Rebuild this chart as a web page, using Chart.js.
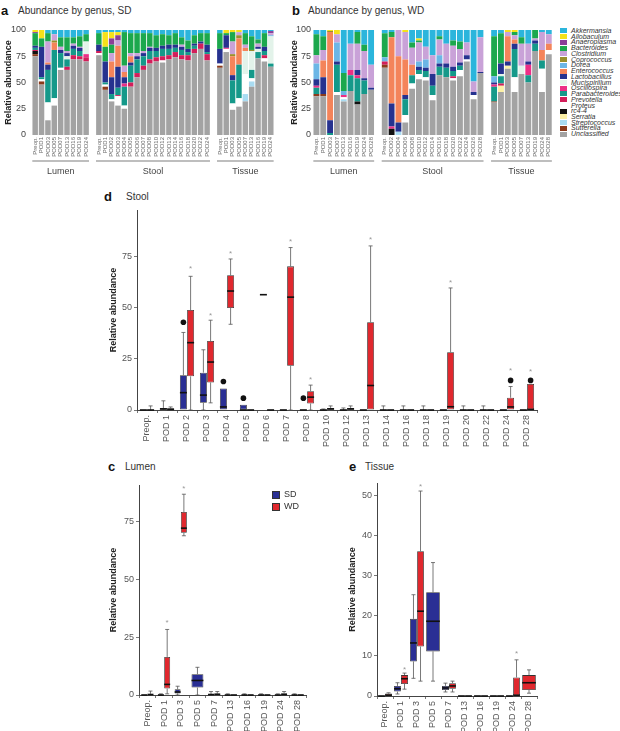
<!DOCTYPE html>
<html>
<head>
<meta charset="utf-8">
<script src="https://cdn.jsdelivr.net/npm/chart.js@4.4.0/dist/chart.umd.min.js"></script>
<style>
  body { margin: 0; width: 620px; height: 731px; position: relative; overflow: hidden; background: #fff;
         font-family: "Liberation Sans", Arial, sans-serif; }
  canvas { position: absolute; }
  .letter { position: absolute; font-size: 13px; font-weight: bold; line-height: 1; color: #111; }
  .title { position: absolute; font-size: 10px; line-height: 1; color: #333; white-space: nowrap; }
  #legendB { position: absolute; left: 560px; top: 28px; }
  #legendB div { position: relative; height: 5.74px; line-height: 5.74px; font-size: 7px; font-style: italic; color: #333; white-space: nowrap; }
  #legendB span { position: absolute; left: 0; top: 0.4px; width: 7px; height: 5px; }
  #legendB em { position: absolute; left: 11px; top: 0; }
  .lg { position: absolute; width: 6px; height: 6px; border: 0.5px solid #333; }
  .lgt { position: absolute; font-size: 9px; line-height: 1; color: #333; }
</style>
</head>
<body>
<span class="letter" style="left:1px; top:4px;">a</span>
<span class="title" style="left:18px; top:6px;">Abundance by genus, SD</span>
<span class="letter" style="left:292px; top:4px;">b</span>
<span class="title" style="left:308px; top:6px;">Abundance by genus, WD</span>
<span class="letter" style="left:104px; top:190px;">d</span>
<span class="title" style="left:126px; top:192px;">Stool</span>
<span class="letter" style="left:108px; top:460px;">c</span>
<span class="title" style="left:125px; top:462px;">Lumen</span>
<span class="letter" style="left:349px; top:460px;">e</span>
<span class="title" style="left:365px; top:462px;">Tissue</span>

<canvas id="chartA" width="280" height="180" style="left:0; top:0;"></canvas>
<canvas id="chartB" width="272" height="180" style="left:286px; top:0;"></canvas>
<div id="legendB"></div>
<canvas id="chartD" width="440" height="260" style="left:104px; top:200px;"></canvas>
<canvas id="chartC" width="210" height="256" style="left:104px; top:475px;"></canvas>
<canvas id="chartE" width="200" height="258" style="left:343px; top:473px;"></canvas>

<div class="lg" style="left:272px; top:491px; background:#2a2f94;"></div>
<span class="lgt" style="left:284px; top:490px;">SD</span>
<div class="lg" style="left:272px; top:503px; background:#e0282e;"></div>
<span class="lgt" style="left:284px; top:502px;">WD</span>

<script>
// ---- genera (legend order, top to bottom) ----
const genera = ['Akkermansia', 'Allobaculum', 'Anaeroplasma', 'Bacteroides', 'Clostridium', 'Coprococcus',
  'Dorea', 'Enterococcus', 'Lactobacillus', 'Mucispirillum', 'Oscillospira', 'Parabacteroides',
  'Prevotella', 'Proteus', 'rc4-4', 'Serratia', 'Streptococcus', 'Sutterella', 'Unclassified'];
const genusColors = ['#2bb5dc', '#f4e11a', '#8b3f98', '#1ca84d', '#c9a2d8', '#9a8f2c',
  '#6cb6e6', '#f4845a', '#26328f', '#e3f3ea', '#ec2f86', '#15998a',
  '#d21e5a', '#ffffff', '#111111', '#fbf0a6', '#a9dcf2', '#8c3b1c', '#a3a3a3'];
const groupNames = ['Lumen', 'Stool', 'Tissue'];

// ---- panel a: SD (lumen 9 | stool 18 | tissue 9) ----
const sdGroupSizes = [9, 18, 9];
const sdLumenLabels = ['Preop.', 'POD1', 'POD03', 'POD05', 'POD07', 'POD13', 'POD16', 'POD19', 'POD24'];
const sdStoolLabels = ['Preop.', 'POD1', 'POD02', 'POD03', 'POD04', 'POD05', 'POD06', 'POD07', 'POD08',
  'POD10', 'POD12', 'POD13', 'POD14', 'POD16', 'POD18', 'POD20', 'POD22', 'POD24'];
const sdTissueLabels = ['Preop.', 'POD1', 'POD03', 'POD05', 'POD07', 'POD13', 'POD16', 'POD19', 'POD24'];

const sdAkkermansia     = [0,0,3,4,7,7,7,6,4,  3,2,2,2,2,3,3,3,3,5,4,5,3,7,10,5,3,3,  3,0,0,0,3,6,9,3,1];
const sdAllobaculum     = [2,8,0,0,0,0,0,0,0,  0,14,6,3,0,0,0,0,0,0,0,0,0,0,0,0,0,0,  0,3,2,2,0,0,0,0,0];
const sdAnaeroplasma    = [1,0,0,0,0,0,0,0,0,  0,0,6,5,0,0,0,0,0,0,0,0,0,0,0,0,0,0,  0,0,0,0,0,0,0,0,2];
const sdBacteroides     = [12,8,8,0,9,13,6,10,7,  11,14,8,0,32,19,19,17,13,12,11,9,11,7,8,8,8,11,  15,2,9,0,11,13,4,13,0];
const sdClostridium     = [0,0,20,6,3,2,2,1,0,  0,0,8,5,6,3,3,2,1,0,0,0,0,2,0,0,0,0,  0,0,12,3,3,0,3,0,2];
const sdCoprococcus     = [0,0,0,2,0,0,0,0,0,  0,0,0,0,0,0,0,0,0,0,0,0,0,0,0,0,0,0,  0,0,2,3,0,1,0,0,0];
const sdDorea           = [0,0,0,0,0,0,0,0,0,  0,0,0,0,0,0,0,0,0,0,0,0,0,0,0,0,0,0,  0,0,0,0,0,0,0,0,1];
const sdEnterococcus    = [0,0,2,7,0,0,0,0,0,  0,0,15,20,5,6,0,0,0,0,0,0,0,0,0,0,0,0,  0,0,18,25,3,0,0,0,0];
const sdLactobacillus   = [2,29,5,0,3,3,3,3,0,  6,20,16,20,6,3,3,3,3,3,3,4,3,3,3,2,2,7,  14,12,5,0,0,0,2,4,0];
const sdMucispirillum   = [0,0,0,0,0,3,0,0,12,  0,0,0,0,0,0,0,0,0,0,0,0,0,0,0,0,0,0,  0,0,0,0,22,18,3,0,26];
const sdOscillospira    = [0,0,0,0,0,0,0,0,3,  0,0,0,0,3,0,0,0,0,0,0,0,0,0,0,0,0,0,  0,1,0,0,0,0,0,0,0];
const sdParabacteroides = [2,2,31,46,14,7,6,5,0,  0,2,5,7,18,16,13,9,8,6,7,6,4,5,3,3,0,2,  0,0,22,32,0,8,6,4,3];
const sdPrevotella      = [1,0,0,0,0,3,4,3,4,  2,0,0,1,0,4,4,4,4,4,4,4,5,4,5,4,5,6,  0,0,0,0,0,0,0,3,0];
const sdProteus         = [0,2,17,7,2,0,0,0,0,  2,2,2,9,3,0,0,0,0,0,2,0,0,0,0,0,0,0,  2,3,6,8,19,3,0,3,0];
const sdRc44            = [3,0,0,0,0,0,0,0,0,  0,0,0,0,0,0,0,0,0,0,0,0,0,0,0,0,0,0,  0,0,0,0,0,0,0,0,0];
const sdSerratia        = [0,0,0,0,0,0,0,0,0,  0,0,0,0,0,0,0,0,0,0,0,0,0,0,0,0,0,0,  0,0,0,0,0,0,0,0,0];
const sdStreptococcus   = [0,0,0,0,0,0,0,0,0,  0,0,0,0,0,0,0,0,0,0,0,0,0,0,0,0,0,0,  0,0,0,0,7,5,0,0,0];
const sdSutterella      = [2,3,0,0,0,0,0,0,0,  0,3,0,0,0,0,0,0,0,0,0,0,0,0,0,0,0,0,  2,0,0,0,0,0,0,0,0];
const sdUnclassified    = [75,48,14,28,62,62,72,72,70,  76,43,32,28,25,46,55,62,68,70,69,72,74,72,71,78,82,71,  64,79,24,27,32,46,73,70,65];

// ---- panel b: WD (lumen 9 | stool 15 | tissue 9) ----
const wdGroupSizes = [9, 15, 9];
const wdLumenLabels = ['Preop.', 'POD1', 'POD03', 'POD07', 'POD13', 'POD16', 'POD19', 'POD24', 'POD28'];
const wdStoolLabels = ['Preop.', 'POD02', 'POD04', 'POD06', 'POD08', 'POD10', 'POD12', 'POD14', 'POD16',
  'POD18', 'POD20', 'POD22', 'POD24', 'POD26', 'POD28'];
const wdTissueLabels = ['Preop.', 'POD1', 'POD03', 'POD05', 'POD07', 'POD13', 'POD19', 'POD24', 'POD28'];

const wdAkkermansia     = [4,6,0,0,41,13,2,14,33,  3,2,0,0,12,8,16,24,6,13,10,11,12,49,7,  6,3,0,0,7,13,0,2,4];
const wdAllobaculum     = [0,0,1,4,0,0,0,0,0,  0,0,0,2,0,2,0,0,0,0,0,0,0,0,0,  0,0,2,2,0,0,0,0,0];
const wdAnaeroplasma    = [0,0,0,0,0,0,0,0,0,  0,0,0,0,0,0,0,0,0,0,0,0,0,0,0,  0,0,0,0,0,0,0,0,0];
const wdBacteroides     = [20,13,0,0,17,0,11,6,0,  23,5,0,0,5,2,0,0,3,0,5,7,0,0,0,  38,29,0,3,6,0,8,0,0];
const wdClostridium     = [8,10,0,8,0,25,25,26,22,  0,0,25,26,16,18,12,18,15,19,20,13,12,10,33,  0,0,4,4,21,17,2,17,9];
const wdCoprococcus     = [0,0,1,0,0,0,0,0,0,  0,0,0,0,0,0,0,0,0,0,0,0,0,0,0,  0,0,0,0,0,0,0,0,0];
const wdDorea           = [15,0,0,18,4,0,0,0,0,  4,0,0,0,0,5,8,0,8,0,0,0,0,0,0,  6,0,0,0,0,0,0,0,0];
const wdEnterococcus    = [0,16,84,0,0,0,0,0,0,  0,63,63,34,10,0,0,0,0,0,0,0,0,0,0,  0,0,24,4,0,0,0,10,6];
const wdLactobacillus   = [6,16,12,3,0,0,5,2,2,  0,22,9,4,0,3,3,11,3,4,4,3,4,3,1,  2,10,4,5,0,3,3,0,0];
const wdMucispirillum   = [0,0,0,0,0,0,0,0,0,  0,0,0,0,0,0,0,0,0,0,0,0,0,0,0,  0,2,0,0,8,0,0,0,0];
const wdOscillospira    = [2,0,0,0,2,5,3,0,0,  0,2,0,0,0,0,0,0,0,0,0,0,0,0,0,  2,0,0,0,0,10,0,0,0];
const wdParabacteroides = [6,0,2,26,0,15,22,13,0,  0,0,0,15,8,4,6,9,8,9,5,4,0,0,0,  14,7,0,27,0,7,7,8,0];
const wdPrevotella      = [0,0,0,0,0,0,0,0,0,  3,0,0,0,0,0,0,0,0,0,2,0,0,0,0,  0,2,0,0,0,0,0,0,0];
const wdProteus         = [0,0,0,3,2,0,0,0,0,  0,0,0,7,5,5,3,5,0,0,2,6,2,4,0,  0,0,0,14,0,0,0,22,4];
const wdRc44            = [0,0,0,0,0,0,3,0,0,  0,6,0,0,0,0,0,0,0,0,0,0,0,0,0,  0,0,0,0,0,0,0,0,0];
const wdSerratia        = [0,0,0,0,0,0,0,0,0,  0,0,0,0,0,0,0,0,0,0,0,0,0,0,0,  0,6,3,0,0,0,0,0,0];
const wdStreptococcus   = [0,0,0,0,2,0,0,0,0,  0,0,3,0,0,0,0,0,0,0,0,0,0,0,0,  0,0,0,0,0,0,0,0,0];
const wdSutterella      = [2,2,0,0,0,0,0,0,0,  3,0,0,0,0,0,0,0,0,0,0,0,0,0,0,  1,0,0,0,0,0,0,0,0];
const wdUnclassified    = [37,37,0,38,32,42,29,39,43,  64,0,0,12,44,53,52,33,57,55,52,56,70,34,59,  31,41,63,41,58,50,80,41,77];

// ---- box plots: [min, q1, median, q3, max] per category ----
const stoolCats = ['Preop.', 'POD 1', 'POD 2', 'POD 3', 'POD 4', 'POD 5', 'POD 6', 'POD 7', 'POD 8', 'POD 10',
  'POD 12', 'POD 13', 'POD 14', 'POD 16', 'POD 18', 'POD 19', 'POD 20', 'POD 22', 'POD 24', 'POD 28'];
const stoolSd = [[0,0,0,0,0], [0,0.2,0.5,1,4.5], [0,0,8.5,17,38], [0,3.5,7.3,18.3,29.5], [0,0,1.5,10.5,10.5],
  [0,0,0,2.6,2.6], [56.5,56.5,56.5,56.5,56.5], [0,0,0,0,0], [0,0,0,0,0], [0,0,0,0,0.5],
  [0,0,0,0,1], [0,0,0,0,0], [0,0,0,0,2], [0,0,0,0,2], [0,0,0,0,2],
  [0,0,0,0,0], [0,0,0,0,2], [0,0,0,0,2], [0,0,0,0,0], [0,0,0,0,0]];
const stoolWd = [[0,0,0,0,2], [0,0,0.3,0.8,1.5], [0,16.5,33,49,65.5], [3.5,13.5,23.5,33.8,44], [42,50,58.3,66,74],
  [0,0,0,0,0], [0,0,0,0,0], [0,21.7,55.3,70.4,79.6], [0,3.2,6.3,9.2,12.2], [0,0.2,0.5,1,2],
  [0,0.2,0.5,1,2], [0,0,12,43,80.4], [0,0,0,0,0], [0,0,0,0,0], [0,0,0,0,0],
  [0,0,1.6,28.3,59.8], [0,0,0,0,0], [0,0,0,0,0], [0,0,1.5,6,11.5], [0,0,0.3,12.8,12.8]];
const stoolSdOutliers = [null, null, 43, null, 14, 5.8, null, null, 5.8, null, null, null, null, null, null, null, null, null, null, null];
const stoolWdOutliers = [null, null, null, null, null, null, null, null, null, null, null, null, null, null, null, null, null, null, 14.5, 14.5];
const stoolWdStars = [null, null, 70, 47, 77.5, null, null, 83, 15.7, null, null, 84, null, null, null, 63.3, null, null, 20, 19.5];

const lumenCats = ['Preop.', 'POD 1', 'POD 3', 'POD 5', 'POD 7', 'POD 13', 'POD 16', 'POD 19', 'POD 24', 'POD 28'];
const lumenSd = [[0,0,0,0,0], [0,0,0,0,0.5], [0,0.7,1.3,2.5,3.8], [0,3.2,6.3,9,12], [0,0,0.2,0.4,1.5],
  [0,0,0,0,0.5], [0,0,0,0,0.5], [0,0,0,0,0.5], [0,0,0,0,0.5], [0,0,0,0,0.5]];
const lumenWd = [[0,0,0.2,0.5,1.7], [0.5,2.8,4.6,16.5,28.4], [69,70.3,72.3,79.3,87], null, [0,0.1,0.3,0.6,1.5],
  [0,0,0,0,0], [0,0,0,0,0], [0,0,0,0,0], [0,0,0.2,0.8,1.5], [0,0,0,0,0]];
const lumenWdStars = [null, 32, 90, null, null, null, null, null, null, null];

const tissueCats = ['Preop.', 'POD 1', 'POD 3', 'POD 5', 'POD 7', 'POD 13', 'POD 16', 'POD 19', 'POD 24', 'POD 28'];
const tissueSd = [[0,0,0,0,0], [0.5,1.1,1.8,2.5,3.3], [4.4,8.6,13.2,19.2,25.2], [3.7,11.1,18.6,25.8,33.2], [1,1.5,2,2.5,3.2],
  [0,0,0,0,0], [0,0,0,0,0], [0,0,0,0,0], [0,0,0,0,0], null];
const tissueWd = [[0,0,0.2,0.6,0.8], [1.7,3,4.3,5.2,5.7], [3.7,12.3,21.1,36,51], null, [1,1.8,2.5,3.2,3.7],
  [0,0,0,0,0], [0,0,0,0,0], [0,0,0,0,0], [0,0,0.2,4.6,9], [0.7,1.5,3.3,5.2,6.5]];
const tissueWdStars = [null, 6.9, 52.5, null, null, null, null, null, 10.9, null];

const sdColor = '#2a2f94';
const wdColor = '#e0282e';

Chart.defaults.font.family = '"Liberation Sans", Arial, sans-serif';
Chart.defaults.animation = false;
Chart.defaults.plugins.legend.display = false;
Chart.defaults.plugins.tooltip.enabled = false;

function withGaps(values, sizes, filler) {
  const out = [];
  let k = 0;
  sizes.forEach((n, g) => {
    if (g > 0) out.push(filler);
    for (let i = 0; i < n; i++) out.push(values[k++]);
  });
  return out;
}

// line + name under each facet of the stacked charts
const facetGroups = {
  id: 'facetGroups',
  afterDraw(chart, args, opts) {
    if (!opts.names) return;
    const x = chart.scales.x;
    const ctx = chart.ctx;
    const slot = x.getPixelForValue(1) - x.getPixelForValue(0);
    const yLine = chart.chartArea.bottom + 26;
    let start = 0;
    ctx.save();
    opts.sizes.forEach((n, g) => {
      const left = x.getPixelForValue(start) - slot * 0.45;
      const right = x.getPixelForValue(start + n - 1) + slot * 0.45;
      ctx.strokeStyle = '#a8a8a8';
      ctx.lineWidth = 1.5;
      ctx.beginPath();
      ctx.moveTo(left, yLine);
      ctx.lineTo(right, yLine);
      ctx.stroke();
      ctx.fillStyle = '#444';
      ctx.font = '9px "Liberation Sans", Arial, sans-serif';
      ctx.textAlign = 'center';
      ctx.textBaseline = 'middle';
      ctx.fillText(opts.names[g], (left + right) / 2, yLine + 11);
      start += n + 1;
    });
    ctx.restore();
  }
};

// whiskers, medians, outliers and significance marks on top of the floating bars
const boxWhisker = {
  id: 'boxWhisker',
  afterDatasetsDraw(chart) {
    const ctx = chart.ctx;
    const y = chart.scales.y;
    chart.data.datasets.forEach((ds, i) => {
      if (!ds.boxes) return;
      const meta = chart.getDatasetMeta(i);
      ds.boxes.forEach((b, j) => {
        if (!b) return;
        const el = meta.data[j];
        const cx = el.x, w = el.width;
        const [mn, q1, med, q3, mx] = b;
        ctx.save();
        ctx.strokeStyle = '#555';
        ctx.lineWidth = 0.8;
        const seg = (x1, y1, x2, y2) => { ctx.beginPath(); ctx.moveTo(x1, y1); ctx.lineTo(x2, y2); ctx.stroke(); };
        if (mn < q1) { seg(cx, y.getPixelForValue(mn), cx, y.getPixelForValue(q1)); seg(cx - 2, y.getPixelForValue(mn), cx + 2, y.getPixelForValue(mn)); }
        if (mx > q3) { seg(cx, y.getPixelForValue(q3), cx, y.getPixelForValue(mx)); seg(cx - 2, y.getPixelForValue(mx), cx + 2, y.getPixelForValue(mx)); }
        ctx.strokeStyle = '#111';
        ctx.lineWidth = 1.6;
        seg(cx - w / 2, y.getPixelForValue(med), cx + w / 2, y.getPixelForValue(med));
        if (ds.outliers && ds.outliers[j] != null) {
          ctx.fillStyle = '#111';
          ctx.beginPath();
          ctx.arc(cx, y.getPixelForValue(ds.outliers[j]), 2.8, 0, Math.PI * 2);
          ctx.fill();
        }
        if (ds.stars && ds.stars[j] != null) {
          ctx.fillStyle = '#999';
          ctx.font = '8px "Liberation Sans", Arial, sans-serif';
          ctx.textAlign = 'center';
          ctx.textBaseline = 'middle';
          ctx.fillText('*', cx, y.getPixelForValue(ds.stars[j]) + 1.5);
        }
        ctx.restore();
      });
    });
  }
};

function drawStacked(id, series, labels, sizes, yWidth, tickPad) {
  const datasets = genera.map((name, i) => ({
    label: name,
    data: withGaps(series[i], sizes, null),
    backgroundColor: genusColors[i],
    borderWidth: 0,
    barPercentage: 0.86,
    categoryPercentage: 1
  })).reverse();
  return new Chart(document.getElementById(id), {
    type: 'bar',
    data: { labels: withGaps(labels, sizes, ''), datasets: datasets },
    options: {
      responsive: false,
      layout: { padding: { top: 30, right: 1, left: 0, bottom: 0 } },
      plugins: { facetGroups: { names: groupNames, sizes: sizes } },
      scales: {
        x: {
          stacked: true,
          grid: { display: false, drawTicks: false },
          border: { display: false },
          ticks: { autoSkip: false, minRotation: 90, maxRotation: 90, padding: 2, color: '#666', font: { size: 6 } },
          afterFit: s => { s.height = 45; }
        },
        y: {
          stacked: true, min: 0, max: 100,
          grid: { display: false, drawTicks: false },
          border: { display: false },
          ticks: { stepSize: 25, padding: tickPad, color: '#444', font: { size: 9 } },
          title: { display: true, text: 'Relative abundance', color: '#222', font: { size: 9, weight: 'bold' }, padding: { top: 3, bottom: 0 } },
          afterFit: s => { s.width = yWidth; }
        }
      }
    },
    plugins: [facetGroups]
  });
}

function drawBoxes(id, cats, sdBoxes, wdBoxes, extra) {
  const mk = (label, boxes, color, outliers, stars) => ({
    label: label,
    data: boxes.map(b => b ? [b[1], b[3]] : null),
    boxes: boxes,
    outliers: outliers,
    stars: stars,
    backgroundColor: color,
    borderColor: '#333',
    borderWidth: 0.8,
    borderSkipped: false,
    skipNull: true,
    barPercentage: extra.barPct,
    categoryPercentage: extra.catPct
  });
  return new Chart(document.getElementById(id), {
    type: 'bar',
    data: {
      labels: cats,
      datasets: [
        mk('SD', sdBoxes, sdColor, extra.sdOut, null),
        mk('WD', wdBoxes, wdColor, extra.wdOut, extra.wdStars)
      ]
    },
    options: {
      responsive: false,
      layout: { padding: { top: 10, right: extra.padRight, left: 0, bottom: 0 } },
      scales: {
        x: {
          grid: { drawOnChartArea: false, tickLength: 3, color: '#777' },
          border: { color: '#444' },
          ticks: { autoSkip: false, minRotation: 90, maxRotation: 90, padding: 2, color: '#555', font: { size: 9 } },
          afterFit: s => { s.height = extra.xHeight; }
        },
        y: {
          min: 0, max: extra.yMax,
          grid: { drawOnChartArea: false, tickLength: 3, color: '#777' },
          border: { color: '#444' },
          ticks: { stepSize: extra.step, padding: 2, color: '#555', font: { size: 9 } },
          afterBuildTicks: s => { s.ticks = s.ticks.filter(t => t.value % extra.step === 0); },
          title: { display: true, text: 'Relative abundance', color: '#222', font: { size: 9, weight: 'bold' } },
          afterFit: s => { s.width = extra.yWidth; }
        }
      }
    },
    plugins: [boxWhisker]
  });
}

const sdSeries = [sdAkkermansia, sdAllobaculum, sdAnaeroplasma, sdBacteroides, sdClostridium, sdCoprococcus,
  sdDorea, sdEnterococcus, sdLactobacillus, sdMucispirillum, sdOscillospira, sdParabacteroides,
  sdPrevotella, sdProteus, sdRc44, sdSerratia, sdStreptococcus, sdSutterella, sdUnclassified];
const wdSeries = [wdAkkermansia, wdAllobaculum, wdAnaeroplasma, wdBacteroides, wdClostridium, wdCoprococcus,
  wdDorea, wdEnterococcus, wdLactobacillus, wdMucispirillum, wdOscillospira, wdParabacteroides,
  wdPrevotella, wdProteus, wdRc44, wdSerratia, wdStreptococcus, wdSutterella, wdUnclassified];

drawStacked('chartA', sdSeries, [...sdLumenLabels, ...sdStoolLabels, ...sdTissueLabels], sdGroupSizes, 32, 6);
drawStacked('chartB', wdSeries, [...wdLumenLabels, ...wdStoolLabels, ...wdTissueLabels], wdGroupSizes, 27, 2);

// legend of panel b
const legendB = document.getElementById('legendB');
genera.forEach((g, i) => {
  const row = document.createElement('div');
  row.innerHTML = `<span style="background:${genusColors[i]}"></span><em>${g}</em>`;
  legendB.appendChild(row);
});

drawBoxes('chartD', stoolCats, stoolSd, stoolWd, {
  sdOut: stoolSdOutliers, wdOut: stoolWdOutliers, wdStars: stoolWdStars,
  yMax: 98, step: 25, yWidth: 33, xHeight: 50, padRight: 7, barPct: 0.97, catPct: 0.72
});
drawBoxes('chartC', lumenCats, lumenSd, lumenWd, {
  sdOut: null, wdOut: null, wdStars: lumenWdStars,
  yMax: 91, step: 25, yWidth: 35, xHeight: 36, padRight: 8, barPct: 0.95, catPct: 0.75
});
drawBoxes('chartE', tissueCats, tissueSd, tissueWd, {
  sdOut: null, wdOut: null, wdStars: tissueWdStars,
  yMax: 53, step: 10, yWidth: 34, xHeight: 35, padRight: 6, barPct: 0.97, catPct: 0.88
});
</script>
</body>
</html>
